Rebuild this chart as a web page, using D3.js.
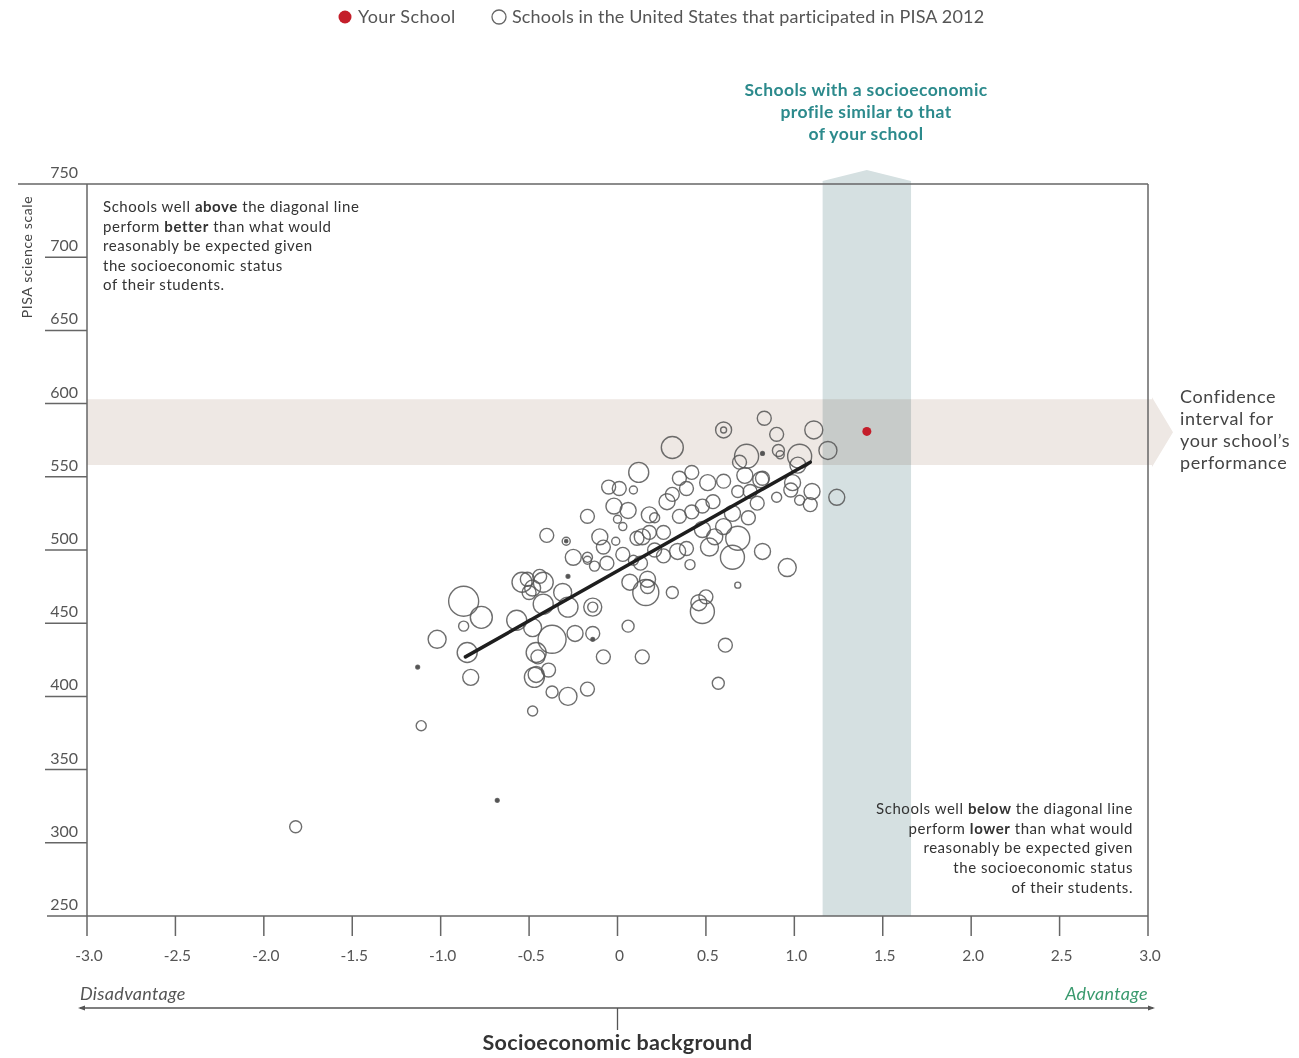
<!DOCTYPE html>
<html>
<head>
<meta charset="utf-8">
<script src="https://cdn.jsdelivr.net/npm/d3@7"></script>
<style>
  html, body { margin: 0; padding: 0; background: #fff; }
  svg { display: block; font-family: Lato, "Open Sans", sans-serif; }
</style>
</head>
<body>
<svg id="chart" width="1299" height="1058"></svg>
<script>
// ---- data ----
const xTicks = [-3.0, -2.5, -2.0, -1.5, -1.0, -0.5, 0, 0.5, 1.0, 1.5, 2.0, 2.5, 3.0];
const xTickLabels = ["-3.0", "-2.5", "-2.0", "-1.5", "-1.0", "-0.5", "0", "0.5", "1.0", "1.5", "2.0", "2.5", "3.0"];
const yTicks = [250, 300, 350, 400, 450, 500, 550, 600, 650, 700, 750];

// schools: socioeconomic index, science score, students (circle size)
const ses = [-1.82,-0.68,-1.11,-1.13,-1.02,-0.87,-0.77,-0.87,-0.85,-0.83,
  -0.57,-0.54,-0.48,-0.51,-0.42,-0.50,-0.42,-0.31,-0.28,-0.28,
  -0.25,-0.17,-0.14,-0.14,-0.48,-0.37,-0.24,-0.14,-0.14,-0.46,
  -0.45,-0.47,-0.46,-0.39,-0.37,-0.28,-0.17,-0.08,-0.48,-0.40,
  -0.29,-0.29,-0.10,-0.08,-0.01,0.03,0.11,0.14,0.18,0.26,
  0.13,0.07,0.17,-0.06,-0.17,-0.13,-0.44,-0.05,0.01,0.09,
  -0.02,0.06,0.18,0.21,-0.17,0.00,0.03,0.12,0.31,0.28,
  0.31,0.35,0.42,0.51,0.39,0.35,0.42,0.48,0.54,0.34,
  0.39,0.41,0.16,0.17,0.31,0.46,0.50,0.48,0.68,0.06,
  0.14,0.61,0.57,0.65,0.96,0.60,0.60,0.83,0.90,0.91,
  1.11,1.19,0.73,0.69,0.82,1.03,1.02,0.60,0.72,0.81,
  0.98,1.10,1.09,0.90,1.24,1.03,0.79,0.65,0.74,0.60,
  0.48,0.68,0.52,0.82,0.09,0.21,0.26,0.55,0.68,0.75,
  0.82,0.99,0.92];
const score = [311,329,380,420,439,465,454,448,430,413,
  452,478,474,480,478,471,463,471,461,482,
  495,495,461,461,447,439,443,443,439,430,
  427,413,415,418,403,400,405,427,390,510,
  506,506,509,502,506,497,508,509,512,512,
  491,478,480,491,493,489,482,543,542,541,
  530,527,524,522,523,521,516,553,570,533,
  538,549,553,546,542,523,526,530,533,499,
  501,490,471,475,471,464,468,458,476,448,
  427,435,409,495,488,582,582,590,579,568,
  582,568,564,560,566,564,558,547,551,548,
  541,540,531,536,536,534,532,525,522,516,
  514,508,502,499,493,500,496,509,540,540,
  549,546,565];
const students = [40,4,28,4,90,250,134,28,111,71,
  111,111,71,54,111,54,111,90,111,4,
  71,28,90,28,90,218,71,54,4,111,
  54,111,71,54,40,90,54,54,28,54,
  18,3,71,54,18,54,54,71,54,54,
  54,71,71,54,18,28,54,54,54,18,
  71,71,71,28,54,18,18,111,134,71,
  54,54,54,71,54,54,54,54,54,71,
  54,28,188,54,40,71,54,160,10,40,
  54,54,40,160,90,71,10,54,54,40,
  90,90,160,54,4,160,71,54,71,71,
  54,71,54,28,71,28,54,71,54,71,
  71,160,90,71,28,54,54,71,40,54,
  54,71,18];

const yourSchool = { ses: 1.41, score: 581 };
const ciLow = 558, ciHigh = 603;           // confidence interval of your school
const simLow = 1.16, simHigh = 1.66;       // similar socioeconomic profile
const regStart = { ses: -0.86, score: 427 };
const regEnd = { ses: 1.09, score: 560 };

// ---- drawing ----
const svg = d3.select("#chart");
const x = d3.scaleLinear().domain([-3, 3]).range([87, 1148]);
const y = d3.scaleLinear().domain([250, 750]).range([916, 184]);
const r = d3.scaleSqrt().domain([0, 250]).range([0, 15]);

// horizontal confidence band with arrow
const bandTop = y(ciHigh), bandBot = y(ciLow), bandMid = (bandTop + bandBot) / 2;
svg.append("path")
  .attr("d", `M${x(-3)},${bandTop} L${x(3) + 4},${bandTop} L${x(3) + 4},${bandTop - 2} L${x(3) + 25},${bandMid} L${x(3) + 4},${bandBot + 2} L${x(3) + 4},${bandBot} L${x(-3)},${bandBot} Z`)
  .attr("fill", "#eee8e4");

// vertical similar-profile band with pointed top
const vx0 = x(simLow), vx1 = x(simHigh), vmid = (vx0 + vx1) / 2;
svg.append("path")
  .attr("d", `M${vx0},${y(250)} L${vx0},${y(750) - 3} L${vmid},${y(750) - 14} L${vx1},${y(750) - 3} L${vx1},${y(250)} Z`)
  .attr("fill", "#d5e0e1")
  .style("mix-blend-mode", "multiply");

// frame and axes
const axisColor = "#666";
svg.append("line").attr("x1", 18).attr("x2", x(3)).attr("y1", y(750)).attr("y2", y(750))
  .attr("stroke", axisColor).attr("stroke-width", 1.5);
svg.append("line").attr("x1", 47).attr("x2", x(3)).attr("y1", y(250)).attr("y2", y(250))
  .attr("stroke", axisColor).attr("stroke-width", 1.5);
svg.append("line").attr("x1", x(-3)).attr("x2", x(-3)).attr("y1", y(750)).attr("y2", y(250) + 20)
  .attr("stroke", axisColor).attr("stroke-width", 1.5);
svg.append("line").attr("x1", x(3)).attr("x2", x(3)).attr("y1", y(750)).attr("y2", y(250) + 20)
  .attr("stroke", axisColor).attr("stroke-width", 1.5);

// y ticks
const yT = svg.append("g");
yTicks.filter(d => d > 250 && d < 750).forEach(d => {
  yT.append("line").attr("x1", 45).attr("x2", x(-3)).attr("y1", y(d)).attr("y2", y(d))
    .attr("stroke", axisColor).attr("stroke-width", 1.5);
});
yTicks.forEach(d => {
  yT.append("text").attr("x", 78).attr("y", y(d) - 6).attr("text-anchor", "end")
    .attr("font-size", 16).attr("fill", "#555").text(d);
});
svg.append("text")
  .attr("transform", `translate(32, 257) rotate(-90)`)
  .attr("text-anchor", "middle").attr("font-size", 14).attr("letter-spacing", 0.6).attr("fill", "#444")
  .text("PISA science scale");

// x ticks
const xT = svg.append("g");
xTicks.forEach((d, i) => {
  if (i > 0 && i < xTicks.length - 1) {
    xT.append("line").attr("x1", x(d)).attr("x2", x(d)).attr("y1", y(250)).attr("y2", y(250) + 20)
      .attr("stroke", axisColor).attr("stroke-width", 1.5);
  }
  xT.append("text").attr("x", x(d) + 2).attr("y", 961).attr("text-anchor", "middle")
    .attr("font-size", 15.5).attr("fill", "#555").text(xTickLabels[i]);
});

// schools
const pts = ses.map((s, i) => ({ ses: s, score: score[i], students: students[i] }));
svg.append("g").selectAll("circle").data(pts).join("circle")
  .attr("cx", d => x(d.ses)).attr("cy", d => y(d.score))
  .attr("r", d => Math.max(r(d.students), 1.6))
  .attr("fill", d => r(d.students) < 2.5 ? "#555" : "none")
  .attr("stroke", "#555").attr("stroke-opacity", 0.85).attr("stroke-width", 1.4);

// regression line
svg.append("line")
  .attr("x1", x(regStart.ses)).attr("y1", y(regStart.score))
  .attr("x2", x(regEnd.ses)).attr("y2", y(regEnd.score))
  .attr("stroke", "#1e1e1e").attr("stroke-width", 3.5).attr("stroke-linecap", "round");

// your school
svg.append("circle").attr("cx", x(yourSchool.ses)).attr("cy", y(yourSchool.score))
  .attr("r", 4.5).attr("fill", "#c41e2a");

// legend
svg.append("circle").attr("cx", 345).attr("cy", 17).attr("r", 6.5).attr("fill", "#c41e2a");
svg.append("text").attr("x", 358).attr("y", 23).attr("font-size", 18).attr("letter-spacing", 0.4)
  .attr("fill", "#555").text("Your School");
svg.append("circle").attr("cx", 499).attr("cy", 17).attr("r", 7).attr("fill", "none")
  .attr("stroke", "#666").attr("stroke-width", 1.3);
svg.append("text").attr("x", 512).attr("y", 23).attr("font-size", 18).attr("letter-spacing", 0.15)
  .attr("fill", "#555")
  .text("Schools in the United States that participated in PISA 2012");

// top annotation
const topLines = ["Schools with a socioeconomic", "profile similar to that", "of your school"];
topLines.forEach((t, i) => {
  svg.append("text").attr("x", 866).attr("y", 96 + i * 22).attr("text-anchor", "middle")
    .attr("font-size", 17.5).attr("letter-spacing", 0.4).attr("font-weight", "bold")
    .attr("fill", "#2c8a8c").text(t);
});

// confidence text
const ciLines = ["Confidence", "interval for", "your school\u2019s", "performance"];
ciLines.forEach((t, i) => {
  svg.append("text").attr("x", 1180).attr("y", 403 + i * 22)
    .attr("font-size", 18).attr("letter-spacing", 0.6).attr("fill", "#444").text(t);
});

// rich text helper
function richLines(lines, xPos, y0, dy, anchor) {
  lines.forEach((parts, i) => {
    const t = svg.append("text").attr("x", xPos).attr("y", y0 + i * dy)
      .attr("text-anchor", anchor).attr("font-size", 15).attr("letter-spacing", 0.55).attr("fill", "#333");
    parts.forEach(p => {
      t.append("tspan").attr("font-weight", p[1] ? "bold" : "normal").text(p[0]);
    });
  });
}
richLines([
  [["Schools well ", 0], ["above", 1], [" the diagonal line", 0]],
  [["perform ", 0], ["better", 1], [" than what would", 0]],
  [["reasonably be expected given", 0]],
  [["the socioeconomic status", 0]],
  [["of their students.", 0]]
], 103, 212, 19.5, "start");
richLines([
  [["Schools well ", 0], ["below", 1], [" the diagonal line", 0]],
  [["perform ", 0], ["lower", 1], [" than what would", 0]],
  [["reasonably be expected given", 0]],
  [["the socioeconomic status", 0]],
  [["of their students.", 0]]
], 1133, 814, 19.7, "end");

// bottom scale
svg.append("text").attr("x", 80).attr("y", 1000).attr("font-size", 18).attr("letter-spacing", 0.3)
  .attr("font-style", "italic").attr("fill", "#555").text("Disadvantage");
svg.append("text").attr("x", 1148).attr("y", 1000).attr("text-anchor", "end").attr("font-size", 18)
  .attr("letter-spacing", 0.3).attr("font-style", "italic").attr("fill", "#3a9a6e").text("Advantage");
svg.append("line").attr("x1", 80).attr("x2", 1153).attr("y1", 1008).attr("y2", 1008)
  .attr("stroke", "#555").attr("stroke-width", 1.3);
svg.append("path").attr("d", "M78,1008 L85,1005.5 L85,1010.5 Z").attr("fill", "#555");
svg.append("path").attr("d", "M1155,1008 L1148,1005.5 L1148,1010.5 Z").attr("fill", "#555");
svg.append("line").attr("x1", x(0)).attr("x2", x(0)).attr("y1", 1008).attr("y2", 1030)
  .attr("stroke", "#555").attr("stroke-width", 1.3);
svg.append("text").attr("x", x(0)).attr("y", 1050).attr("text-anchor", "middle")
  .attr("font-size", 21.5).attr("letter-spacing", 0.3).attr("font-weight", "bold")
  .attr("fill", "#333").text("Socioeconomic background");
</script>
</body>
</html>
